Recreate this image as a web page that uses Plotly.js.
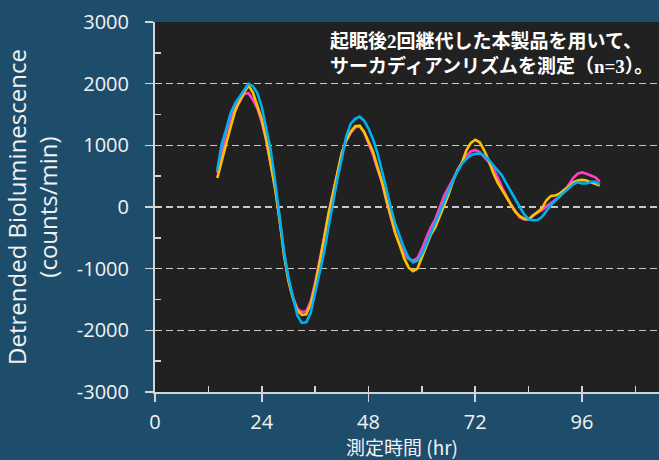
<!DOCTYPE html>
<html><head><meta charset="utf-8">
<script src="https://cdn.plot.ly/plotly-3.0.1.min.js"></script>
<style>html,body{margin:0;padding:0;background:#1e4d6c;overflow:hidden;} #chart{width:659px;height:460px;}</style>
</head><body><div id="chart"></div>
<script>
// time (hr)
const hours = [14,15,16,17,18,19,20,21,22,23,24,25,26,27,28,29,30,31,32,33,34,35,36,37,38,39,40,41,42,43,44,45,46,47,48,49,50,51,52,53,54,55,56,57,58,59,60,61,62,63,64,65,66,67,68,69,70,71,72,73,74,75,76,77,78,79,80,81,82,83,84,85,86,87,88,89,90,91,92,93,94,95,96,97,98,99,100];
// series (counts/min)
const sampleYellow = [470,760,1050,1300,1550,1720,1850,1970,1860,1650,1420,1100,700,300,-200,-780,-1200,-1480,-1680,-1750,-1740,-1580,-1280,-920,-520,-120,230,580,880,1080,1220,1310,1320,1220,1050,900,650,420,130,-150,-420,-620,-830,-980,-1040,-1000,-820,-620,-450,-330,-150,30,200,420,600,720,920,1040,1090,1050,920,760,560,400,280,170,60,-80,-150,-190,-200,-140,-80,-20,110,180,185,220,280,330,400,430,440,430,400,370,350];
const sampleMagenta = [560,900,1200,1450,1620,1700,1830,1850,1740,1600,1380,1080,700,320,-200,-740,-1180,-1460,-1650,-1700,-1690,-1530,-1230,-880,-500,-100,230,570,870,1080,1200,1290,1310,1210,1030,850,620,400,100,-170,-420,-600,-760,-840,-870,-830,-680,-500,-330,-200,-20,180,320,460,600,720,830,900,925,890,810,730,620,490,320,190,40,-60,-170,-200,-200,-130,-90,-50,10,60,110,170,250,360,470,540,560,540,510,480,410];
const sampleCyan = [600,1020,1260,1520,1680,1780,1900,2000,1960,1850,1620,1300,930,420,-150,-720,-1150,-1480,-1760,-1880,-1870,-1720,-1400,-1080,-740,-330,80,450,790,1150,1350,1430,1465,1400,1270,1100,880,600,300,-10,-270,-470,-670,-820,-900,-870,-760,-600,-430,-260,-80,100,280,430,580,700,780,840,865,870,830,770,680,600,510,380,250,110,0,-120,-200,-215,-210,-160,-60,30,100,180,240,310,370,400,380,380,410,410,360];
// ticks
const xTickVals = [0,24,48,72,96];
const xTickText = ["0","24","48","72","96"];
const xMinorVals = [12,36,60,84,108];
const yTickVals = [-3000,-2000,-1000,0,1000,2000,3000];
const yTickText = ["-3000","-2000","-1000","0","1000","2000","3000"];
const yMinorVals = [-2500,-1500,-500,500,1500,2500];
// texts
const xTitle = "測定時間 (hr)";
const yTitleLines = ["Detrended Bioluminescence","(counts/min)"];
const noteLines = ["起眠後2回継代した本製品を用いて、","サーカディアンリズムを測定（n=3）。"];

const axisCol = '#d4d4d4';
const xRange = [0, 113.3];
const yRange = [-3000, 3000];

function line(y, color){
  return {x: hours, y: y, type:'scatter', mode:'lines', line:{color:color, width:2.6}, hoverinfo:'skip', showlegend:false};
}
const traces = [
  line(sampleMagenta, '#ff3fc6'),
  line(sampleYellow, '#ffc000'),
  line(sampleCyan, '#00b0f0'),
  {x:[null], y:[null], xaxis:'x2', yaxis:'y2', type:'scatter', mode:'lines', hoverinfo:'skip', showlegend:false}
];

const layout = {
  width:659, height:460,
  paper_bgcolor:'#1e4d6c', plot_bgcolor:'#212121',
  margin:{l:155, r:0, t:22, b:68, pad:0},
  showlegend:false,
  font:{family:'"Open Sans", "Noto Sans", sans-serif', color:'#f2f2f2', size:20},
  xaxis:{
    range:xRange, tickmode:'array', tickvals:xTickVals, ticktext:xTickText,
    ticks:'outside', ticklen:8, tickwidth:1.6, tickcolor:axisCol,
    showline:true, linecolor:axisCol, linewidth:2, showgrid:false, zeroline:false,
    minor:{tickmode:'array', tickvals:xMinorVals, ticks:'inside', ticklen:6, tickwidth:1.6, tickcolor:axisCol, showgrid:false},
    tickfont:{size:20, color:'#f2f2f2'}, ticklabelstandoff:3,
    fixedrange:true
  },
  yaxis:{
    range:yRange, tickmode:'array', tickvals:yTickVals, ticktext:yTickText,
    ticks:'outside', ticklen:8, tickwidth:1.6, tickcolor:axisCol,
    showline:true, linecolor:axisCol, linewidth:2,
    showgrid:true, gridcolor:'#c8c8c8', gridwidth:1.4, griddash:'7px,4px', zeroline:false,
    minor:{tickmode:'array', tickvals:yMinorVals, ticks:'inside', ticklen:6, tickwidth:1.6, tickcolor:axisCol, showgrid:false},
    tickfont:{size:20, color:'#f2f2f2'}, ticklabelstandoff:12,
    title:{text:yTitleLines.join('<br>'), font:{size:24, color:'#f2f2f2'}, standoff:12},
    fixedrange:true
  },
  xaxis2:{overlaying:'x', anchor:'y', range:xRange, tickmode:'array', tickvals:xTickVals,
    ticks:'inside', ticklen:6, tickwidth:1.6, tickcolor:axisCol, showticklabels:false,
    showgrid:false, zeroline:false, showline:false, fixedrange:true},
  yaxis2:{overlaying:'y', anchor:'x', range:yRange, tickmode:'array', tickvals:yTickVals,
    ticks:'inside', ticklen:6, tickwidth:1.6, tickcolor:axisCol, showticklabels:false,
    showgrid:false, zeroline:false, showline:false, fixedrange:true},
  annotations:[{
    xref:'paper', yref:'paper', x:0.343, y:0.98, xanchor:'left', yanchor:'top',
    align:'left', showarrow:false,
    text:'<b>'+noteLines.join('<br>')+'</b>',
    font:{family:'"Liberation Serif", "Noto Sans CJK JP", serif', size:19, color:'#ffffff'}
  },{
    xref:'paper', yref:'paper', x:0.49, y:-0.148, xanchor:'center', yanchor:'middle',
    showarrow:false, text:xTitle, borderpad:0,
    font:{family:'"Noto Sans CJK JP", "Open Sans", sans-serif', size:19, color:'#f2f2f2'}
  }]
};
Plotly.newPlot('chart', traces, layout, {displayModeBar:false, staticPlot:true});
</script></body></html>
